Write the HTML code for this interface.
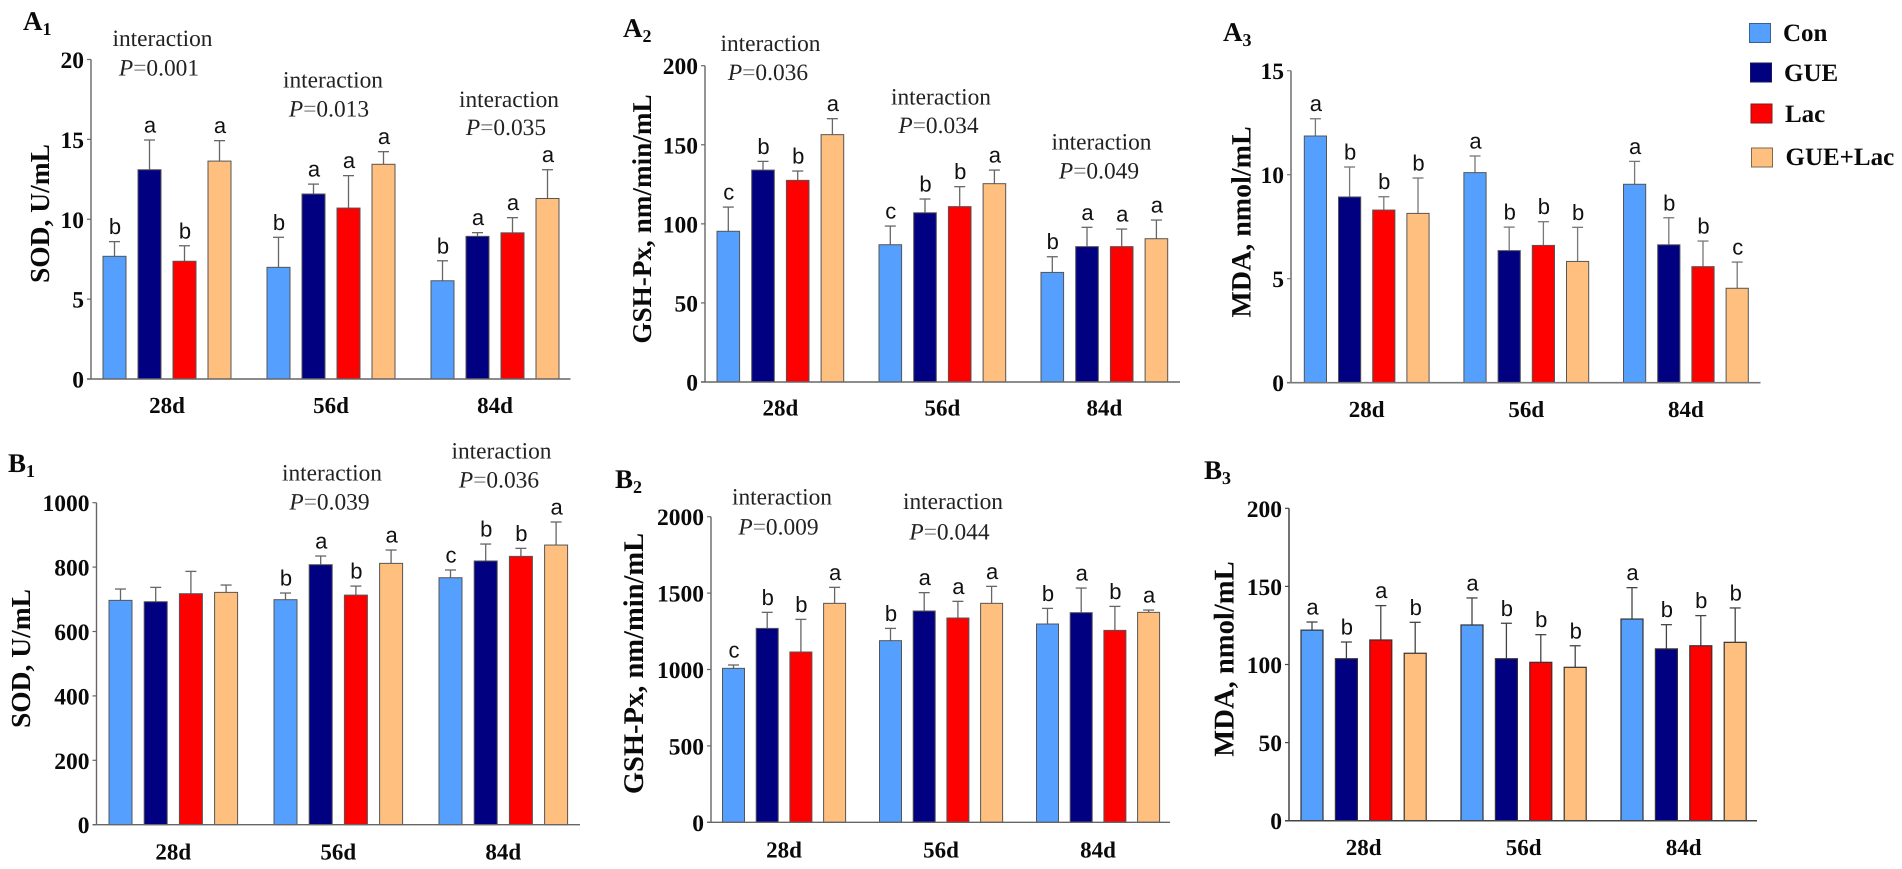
<!DOCTYPE html>
<html lang="en">
<head>
<meta charset="utf-8">
<title>Antioxidant indices bar charts</title>
<style>
html,body{margin:0;padding:0;background:#fff;width:1902px;height:869px;overflow:hidden}
svg{display:block;text-rendering:geometricPrecision}
text{font-family:"Liberation Serif",serif;fill:#0a0a0a}
.tick{font-weight:bold;font-size:23.5px;text-anchor:end}
.cat{font-weight:bold;font-size:23px;text-anchor:middle}
.title{font-weight:bold;text-anchor:middle}
.panel{font-weight:bold;font-size:27px}
.panel tspan{font-size:18px}
.note{font-size:23.4px;text-anchor:middle;fill:#222}
.note .eq{fill:#777}
.letter{font-family:"Liberation Sans",sans-serif;font-size:22px;text-anchor:middle;fill:#111}
.leg{font-weight:bold;font-size:25px}
</style>
</head>
<body>
<svg id="figure" xmlns="http://www.w3.org/2000/svg" width="1902" height="869" viewBox="0 0 1902 869">
  <g id="marks"></g>

  <text class="panel" x="23" y="30">A<tspan dy="5">1</tspan></text>
  <text class="panel" x="623" y="37">A<tspan dy="5">2</tspan></text>
  <text class="panel" x="1223" y="41">A<tspan dy="5">3</tspan></text>
  <text class="panel" x="8" y="472">B<tspan dy="5">1</tspan></text>
  <text class="panel" x="615" y="488">B<tspan dy="5">2</tspan></text>
  <text class="panel" x="1204" y="479">B<tspan dy="5">3</tspan></text>

  <text class="title" font-size="27.5" transform="translate(49,213.5) rotate(-90)">SOD, U/mL</text>
  <text class="title" font-size="27.2" transform="translate(651,219) rotate(-90)">GSH-Px, nm/min/mL</text>
  <text class="title" font-size="28" transform="translate(1250.5,222) rotate(-90)">MDA, nmol/mL</text>
  <text class="title" font-size="27.5" transform="translate(30,658.5) rotate(-90)">SOD, U/mL</text>
  <text class="title" font-size="28.5" transform="translate(643,663.5) rotate(-90)">GSH-Px, nm/min/mL</text>
  <text class="title" font-size="28.6" transform="translate(1233.5,659) rotate(-90)">MDA, nmol/mL</text>

  <g>
    <text class="note" x="162.5" y="46">interaction</text>
    <text class="note" x="159" y="75.5"><tspan font-style="italic">P</tspan><tspan class="eq">=</tspan>0.001</text>
  </g>
  <g>
    <text class="note" x="333" y="87.5">interaction</text>
    <text class="note" x="329" y="116.5"><tspan font-style="italic">P</tspan><tspan class="eq">=</tspan>0.013</text>
  </g>
  <g>
    <text class="note" x="509" y="107">interaction</text>
    <text class="note" x="506" y="135"><tspan font-style="italic">P</tspan><tspan class="eq">=</tspan>0.035</text>
  </g>
  <g>
    <text class="note" x="770.5" y="51">interaction</text>
    <text class="note" x="768" y="80"><tspan font-style="italic">P</tspan><tspan class="eq">=</tspan>0.036</text>
  </g>
  <g>
    <text class="note" x="941" y="104.5">interaction</text>
    <text class="note" x="938.5" y="133"><tspan font-style="italic">P</tspan><tspan class="eq">=</tspan>0.034</text>
  </g>
  <g>
    <text class="note" x="1101.5" y="149.5">interaction</text>
    <text class="note" x="1099" y="178.5"><tspan font-style="italic">P</tspan><tspan class="eq">=</tspan>0.049</text>
  </g>
  <g>
    <text class="note" x="332" y="480.5">interaction</text>
    <text class="note" x="329.5" y="509.5"><tspan font-style="italic">P</tspan><tspan class="eq">=</tspan>0.039</text>
  </g>
  <g>
    <text class="note" x="501.5" y="458.5">interaction</text>
    <text class="note" x="499" y="487.5"><tspan font-style="italic">P</tspan><tspan class="eq">=</tspan>0.036</text>
  </g>
  <g>
    <text class="note" x="782" y="504.5">interaction</text>
    <text class="note" x="778.5" y="534.5"><tspan font-style="italic">P</tspan><tspan class="eq">=</tspan>0.009</text>
  </g>
  <g>
    <text class="note" x="953" y="509">interaction</text>
    <text class="note" x="949.5" y="539.5"><tspan font-style="italic">P</tspan><tspan class="eq">=</tspan>0.044</text>
  </g>

  <g>
    <g>
      <rect x="1749.5" y="23.5" width="21" height="19" fill="#559fff" stroke="#3c5f8c" stroke-width="1"/>
      <text class="leg" x="1783" y="41">Con</text>
    </g>
    <g>
      <rect x="1750.5" y="63" width="21" height="19" fill="#000080" stroke="#1a1a5a" stroke-width="1"/>
      <text class="leg" x="1784" y="81">GUE</text>
    </g>
    <g>
      <rect x="1751" y="104" width="21" height="19" fill="#ff0000" stroke="#7a2020" stroke-width="1"/>
      <text class="leg" x="1785" y="122">Lac</text>
    </g>
    <g>
      <rect x="1751.5" y="148" width="21" height="19" fill="#ffc07f" stroke="#7a6a50" stroke-width="1"/>
      <text class="leg" x="1785.5" y="165">GUE+Lac</text>
    </g>
  </g>
</svg>

<script>
// Shared categories and series
const categories = ['28d', '56d', '84d'];
const seriesNames = ['con', 'gue', 'lac', 'gue-lac'];
const seriesColors = ['#559fff', '#000080', '#ff0000', '#ffc07f'];

// Panel A1: SOD, U/mL (each row is a time point; columns Con, GUE, Lac, GUE+Lac)
const a1Ticks = [0, 5, 10, 15, 20];
const a1Means = [[7.68, 13.1, 7.37, 13.64], [6.99, 11.58, 10.7, 13.44], [6.15, 8.93, 9.15, 11.3]];
const a1Upper = [[8.6, 14.96, 8.34, 14.92], [8.87, 12.2, 12.73, 14.23], [7.4, 9.16, 10.1, 13.1]];
const a1Letters = [['b', 'a', 'b', 'a'], ['b', 'a', 'a', 'a'], ['b', 'a', 'a', 'a']];

// Panel A2: GSH-Px, nm/min/mL
const a2Ticks = [0, 50, 100, 150, 200];
const a2Means = [[95.3, 134, 127.5, 156.4], [86.8, 107, 110.9, 125.4], [69.3, 85.6, 85.6, 90.6]];
const a2Upper = [[110.6, 139.5, 133.4, 166.5], [98.6, 115.7, 123.5, 134], [79.2, 97.8, 96.7, 102.4]];
const a2Letters = [['c', 'b', 'b', 'a'], ['c', 'b', 'b', 'a'], ['b', 'a', 'a', 'a']];

// Panel A3: MDA, nmol/mL
const a3Ticks = [0, 5, 10, 15];
const a3Means = [[11.86, 8.93, 8.3, 8.14], [10.1, 6.35, 6.6, 5.83], [9.54, 6.63, 5.58, 4.54]];
const a3Upper = [[12.69, 10.37, 8.94, 9.84], [10.9, 7.48, 7.74, 7.47], [10.64, 7.93, 6.81, 5.8]];
const a3Letters = [['a', 'b', 'b', 'b'], ['a', 'b', 'b', 'b'], ['a', 'b', 'b', 'c']];

// Panel B1: SOD, U/mL
const b1Ticks = [0, 200, 400, 600, 800, 1000];
const b1Means = [[696.7, 692.5, 717.4, 721.5], [698.8, 807.5, 713, 811.6], [767, 819, 833.3, 868.5]];
const b1Upper = [[731.9, 737, 786.7, 744.3], [719.5, 834.4, 741, 853], [791, 871.6, 858.2, 940]];
const b1Letters = [['', '', '', ''], ['b', 'a', 'b', 'a'], ['c', 'b', 'b', 'a']];

// Panel B2: GSH-Px, nm/min/mL
const b2Ticks = [0, 500, 1000, 1500, 2000];
const b2Means = [[1007.6, 1269, 1114.5, 1433], [1188.7, 1382.8, 1337, 1433], [1297.7, 1372, 1256, 1374]];
const b2Upper = [[1029.4, 1374, 1328, 1537.6], [1269, 1503, 1446, 1544], [1400, 1533, 1413, 1389]];
const b2Letters = [['c', 'b', 'b', 'a'], ['b', 'a', 'a', 'a'], ['b', 'a', 'b', 'a']];

// Panel B3: MDA, nmol/mL
const b3Ticks = [0, 50, 100, 150, 200];
const b3Means = [[122, 103.7, 115.7, 107.2], [125.3, 103.7, 101.4, 98.2], [129.1, 110, 112, 114.2]];
const b3Upper = [[127.2, 114.4, 137.7, 127], [142.6, 126.4, 119.1, 112], [149.2, 125.5, 131.3, 136.2]];
const b3Letters = [['a', 'b', 'a', 'b'], ['a', 'b', 'b', 'b'], ['a', 'b', 'b', 'b']];

const NS = 'http://www.w3.org/2000/svg';
const root = document.getElementById('marks');

function make(tag, attrs, parent) {
  const node = document.createElementNS(NS, tag);
  for (const key in attrs) node.setAttribute(key, attrs[key]);
  parent.appendChild(node);
  return node;
}

function drawPanel(p) {
  const group = make('g', {}, root);
  
  

  const maxTick = p.ticks[p.ticks.length - 1];
  const yScale = function (v) { return p.y0 - (v / maxTick) * (p.y0 - p.yTop); };
  const xScale = function (g, s) { return p.first + g * p.groupStep + s * p.barStep; };

  p.means.forEach(function (row, g) {
    row.forEach(function (value, s) {
      const x = xScale(g, s);
      const cx = x + p.barW / 2;
      const top = yScale(value);
      const upper = yScale(p.upper[g][s]);

      const stem = make('line', { x1: cx, x2: cx, y1: top, y2: upper, stroke: p.axis, 'stroke-width': 1.3 }, group);
      
      

      const cap = make('line', { x1: cx - 5.5, x2: cx + 5.5, y1: upper, y2: upper, stroke: p.axis, 'stroke-width': 1.3 }, group);
      
      

      const bar = make('rect', { x: x, y: top, width: p.barW, height: p.y0 - top, fill: seriesColors[s], stroke: p.barStroke, 'stroke-width': p.barStrokeW }, group);
      
      

      const mark = p.letters[g][s];
      if (mark) {
        const letter = make('text', { x: cx + 0.5, y: upper - 7.5, class: 'letter' }, group);
        letter.textContent = mark;
        
        
      }
    });
  });

  const yAxis = make('line', { x1: p.axisX, x2: p.axisX, y1: yScale(maxTick), y2: p.y0, stroke: p.axis, 'stroke-width': p.axisW }, group);
  
  

  const xAxis = make('line', { x1: p.axisX - 4, x2: p.end, y1: p.y0, y2: p.y0, stroke: p.axis, 'stroke-width': p.axisW }, group);
  
  

  p.ticks.forEach(function (t) {
    const y = yScale(t);
    const mark = make('line', { x1: p.axisX - 4, x2: p.axisX, y1: y, y2: y, stroke: p.axis, 'stroke-width': 1.2 }, group);
    
    

    const label = make('text', { x: p.axisX - 7, y: y + 8.5, class: 'tick' }, group);
    label.textContent = t;
    
    
  });

  categories.forEach(function (c, g) {
    const cx = xScale(g, 1.5) + p.barW / 2;
    const label = make('text', { x: cx, y: p.catY, class: 'cat' }, group);
    label.textContent = c;
    
    
  });
}

drawPanel({ id: 'a1', ticks: a1Ticks, means: a1Means, upper: a1Upper, letters: a1Letters, axisX: 91, yTop: 59.5, y0: 379, end: 570.5, first: 103, barStep: 35, groupStep: 164, barW: 23, catY: 413, axis: '#666', axisW: 1.4, barStroke: '#555', barStrokeW: 1 });
drawPanel({ id: 'a2', ticks: a2Ticks, means: a2Means, upper: a2Upper, letters: a2Letters, axisX: 705, yTop: 65.7, y0: 382, end: 1180, first: 717, barStep: 34.7, groupStep: 162, barW: 22.6, catY: 415.5, axis: '#666', axisW: 1.4, barStroke: '#555', barStrokeW: 1 });
drawPanel({ id: 'a3', ticks: a3Ticks, means: a3Means, upper: a3Upper, letters: a3Letters, axisX: 1291, yTop: 70.7, y0: 382.7, end: 1760.5, first: 1304.3, barStep: 34.2, groupStep: 159.6, barW: 22.2, catY: 417, axis: '#777', axisW: 1.6, barStroke: '#555', barStrokeW: 1 });
drawPanel({ id: 'b1', ticks: b1Ticks, means: b1Means, upper: b1Upper, letters: b1Letters, axisX: 96.5, yTop: 502.7, y0: 824.7, end: 580, first: 109, barStep: 35.2, groupStep: 165, barW: 23, catY: 859.5, axis: '#666', axisW: 1.4, barStroke: '#555', barStrokeW: 1 });
drawPanel({ id: 'b2', ticks: b2Ticks, means: b2Means, upper: b2Upper, letters: b2Letters, axisX: 711, yTop: 516.7, y0: 822.3, end: 1170, first: 722.5, barStep: 33.7, groupStep: 157, barW: 22, catY: 857.5, axis: '#666', axisW: 1.4, barStroke: '#555', barStrokeW: 1 });
drawPanel({ id: 'b3', ticks: b3Ticks, means: b3Means, upper: b3Upper, letters: b3Letters, axisX: 1289, yTop: 508.3, y0: 820.7, end: 1757, first: 1301, barStep: 34.4, groupStep: 160, barW: 22, catY: 855, axis: '#444', axisW: 1.5, barStroke: '#333', barStrokeW: 1.2 });
</script>
</body>
</html>
